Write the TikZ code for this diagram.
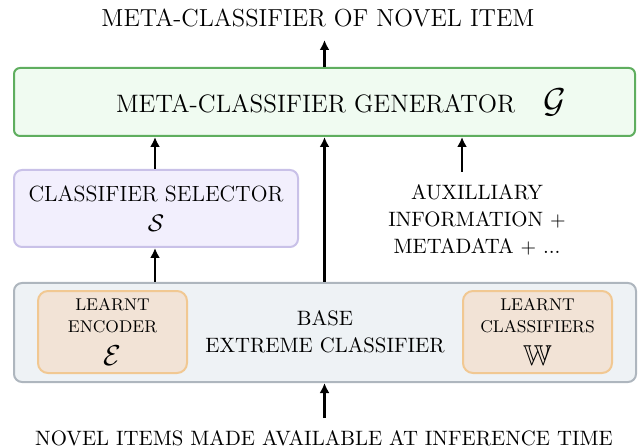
\documentclass[tikz,border=0pt]{standalone}
\usepackage{amssymb}
\usetikzlibrary{arrows.meta}

\definecolor{gengreen}{HTML}{5FAE5F}
\definecolor{genfill}{HTML}{F0FBF1}
\definecolor{selpurple}{HTML}{C9C1E8}
\definecolor{selfill}{HTML}{F2EFFD}
\definecolor{basegray}{HTML}{AEB6BE}
\definecolor{basefill}{HTML}{EEF2F5}
\definecolor{learnorange}{HTML}{F1C892}
\definecolor{learnfill}{HTML}{F2E3D6}

\begin{document}
\begin{tikzpicture}[x=0.5pt,y=-0.5pt,
        green/.style = {shape=rectangle, rounded corners=3pt,
          draw=gengreen, fill=genfill, line width=1pt,
          minimum width=310.5pt, minimum height=34pt,
          font=\fontsize{12.6}{15}\selectfont},
        purple/.style = {shape=rectangle, rounded corners=4pt,
          draw=selpurple, fill=selfill, line width=1pt, align=center,
          minimum width=142pt, minimum height=38.5pt,
          font=\fontsize{11}{14}\selectfont},
        gray/.style = {shape=rectangle, rounded corners=4pt,
          draw=basegray, fill=basefill, line width=1pt,
          minimum width=311pt, minimum height=49.5pt},
        orange/.style = {shape=rectangle, rounded corners=5pt,
          draw=learnorange, fill=learnfill, line width=1pt, align=center,
          minimum width=74.5pt, minimum height=41pt,
          font=\fontsize{8.5}{11}\selectfont},
        plain/.style = {align=center, font=\fontsize{10.4}{13.5}\selectfont},
        arrow/.style = {-{Latex[length=5pt,width=5pt]}, line width=1.4pt}]
        \useasboundingbox (0,0) rectangle (641,448);
        % boxes
        \node[green] (gen) at (324.5,102)
          {\hspace*{16.5pt}META-CLASSIFIER GENERATOR\hspace{14pt}\LARGE$\mathcal{G}$};
        \node[purple] (sel) at (156,208.5)
          {CLASSIFIER SELECTOR\\[1pt]\large$\mathcal{S}$};
        \node[gray] (base) at (325,332.5) {};
        \node[orange] (enc) at (112.5,332)
          {LEARNT\\ENCODER\\[5.5pt]\Large$\mathcal{E}$};
        \node[orange] (cls) at (537.5,332)
          {LEARNT\\CLASSIFIERS\\[5.5pt]\Large$\mathbb{W}$};
        \node[plain] (basetext) at (325,332) {BASE\\EXTREME CLASSIFIER};
        % texts
        \node[plain, font=\fontsize{12.3}{15}\selectfont] (title) at (318,18)
          {META-CLASSIFIER OF NOVEL ITEM};
        \node[plain] (aux) at (477,220)
          {AUXILLIARY\\INFORMATION $+$\\METADATA $+$ ...};
        \node[plain] (input) at (324,438)
          {NOVEL ITEMS MADE AVAILABLE AT INFERENCE TIME};
        \coordinate (auxtop) at (462,172);
        % arrows
        \draw[arrow] (gen.north) -- (gen.north |- 0,40);
        \draw[arrow] (sel.north -| 155,0) -- (155,0 |- gen.south);
        \draw[arrow] (base.north -| gen) -- (gen.south);
        \draw[arrow] (auxtop) -- (auxtop |- gen.south);
        \draw[arrow] (base.north -| 155,0) -- (155,0 |- sel.south);
        \draw[arrow] (gen |- 0,418) -- (gen |- base.south);
\end{tikzpicture}
\end{document}
